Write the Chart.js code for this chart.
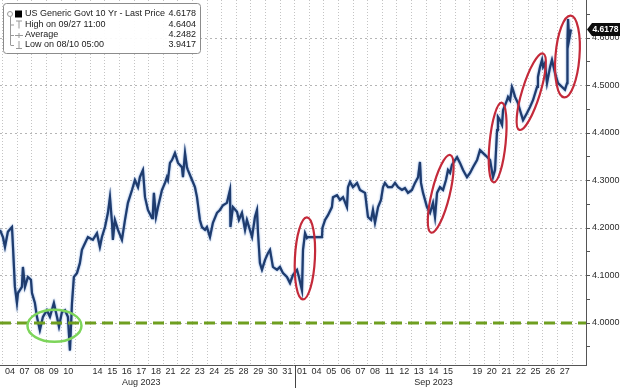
<!DOCTYPE html>
<html>
<head>
<meta charset="utf-8">
<script src="https://cdn.jsdelivr.net/npm/chart.js@4.4.0/dist/chart.umd.min.js"></script>
<style>
  html, body { margin: 0; padding: 0; background: #fff; }
  #wrap { width: 620px; height: 388px; }
</style>
</head>
<body>
<div id="wrap"><canvas id="myChart" width="620" height="388"></canvas></div>
<script>
// trading days on the axis (Aug 3 is only partly visible at the left edge)
const tradingDays = [
  '08/04', '08/07', '08/08', '08/09', '08/10', '08/11', '08/14', '08/15', '08/16', '08/17',
  '08/18', '08/21', '08/22', '08/23', '08/24', '08/25', '08/28', '08/29', '08/30', '08/31',
  '09/01', '09/04', '09/05', '09/06', '09/07', '09/08', '09/11', '09/12', '09/13', '09/14',
  '09/15', '09/18', '09/19', '09/20', '09/21', '09/22', '09/25', '09/26', '09/27'
];
const hiddenDayLabels = ['08/11', '09/18'];
const monthLabels = { '08/17': 'Aug 2023', '09/14': 'Sep 2023' };

// intraday path: position in trading days (0 = Aug 04) and yield
const pricePos = [
  -0.68, -0.48, -0.34, -0.14, 0.14, 0.21, 0.34, 0.48, 0.55, 0.82,
  0.89, 1.03, 1.23, 1.44, 1.51, 1.71, 1.85, 2.05, 2.26, 2.53,
  2.74, 3.01, 3.22, 3.36, 3.56, 3.77, 3.97, 4.11, 4.25, 4.38,
  4.59, 4.79, 4.93, 5.14, 5.34, 5.68, 5.96, 6.16, 6.30, 6.51,
  6.71, 6.85, 6.99, 7.05, 7.19, 7.40, 7.67, 7.88, 8.08, 8.36,
  8.56, 8.77, 8.90, 9.11, 9.25, 9.45, 9.73, 9.79, 9.86, 10.00,
  10.14, 10.41, 10.62, 10.75, 10.82, 10.96, 11.10, 11.30, 11.51, 11.78,
  11.85, 11.99, 12.12, 12.19, 12.47, 12.67, 12.81, 13.01, 13.15, 13.36,
  13.49, 13.70, 13.90, 14.18, 14.38, 14.59, 14.86, 15.07, 15.10, 15.27,
  15.55, 15.68, 15.89, 16.10, 16.23, 16.58, 16.78, 16.92, 16.99, 17.12,
  17.26, 17.47, 17.67, 17.81, 18.01, 18.29, 18.49, 18.70, 18.97, 19.18,
  19.38, 19.66, 19.79, 20.00, 20.07, 20.21, 20.34, 20.41, 21.37, 21.40,
  21.58, 21.78, 22.05, 22.12, 22.40, 22.60, 22.81, 23.08, 23.15, 23.29,
  23.49, 23.77, 23.97, 24.32, 24.52, 24.73, 24.86, 25.00, 25.21, 25.41,
  25.55, 25.68, 25.89, 26.16, 26.37, 26.58, 26.85, 27.05, 27.26, 27.53,
  27.74, 27.95, 28.08, 28.15, 28.29, 28.56, 28.77, 28.97, 29.11, 29.25,
  29.45, 29.66, 29.86, 30.00, 30.14, 30.27, 30.48, 30.62, 30.82, 31.03,
  31.30, 31.51, 31.71, 31.99, 32.19, 32.53, 32.88, 33.08, 33.22, 33.36,
  33.42, 33.56, 33.70, 33.77, 34.04, 34.11, 34.25, 34.38, 34.45, 34.59,
  34.79, 34.93, 35.07, 35.14, 35.41, 35.62, 35.82, 36.10, 36.16, 36.30,
  36.44, 36.51, 36.64, 36.78, 36.99, 37.12, 37.33, 37.53, 37.81, 38.01,
  38.15, 38.18, 38.22, 38.29, 38.42
];
const priceVals = [
  4.196, 4.181, 4.160, 4.192, 4.202, 4.160, 4.076, 4.042, 4.063, 4.076,
  4.118, 4.076, 4.097, 4.091, 4.063, 4.042, 4.013, 3.985, 4.013, 4.027,
  4.013, 4.042, 4.013, 3.992, 4.023, 4.027, 4.013, 3.942, 4.042, 4.097,
  4.105, 4.126, 4.154, 4.168, 4.181, 4.175, 4.189, 4.160, 4.181, 4.202,
  4.232, 4.265, 4.211, 4.175, 4.217, 4.196, 4.175, 4.217, 4.253, 4.280,
  4.301, 4.286, 4.307, 4.322, 4.265, 4.238, 4.221, 4.232, 4.274, 4.223,
  4.244, 4.280, 4.295, 4.307, 4.301, 4.337, 4.343, 4.358, 4.337, 4.328,
  4.307, 4.358, 4.328, 4.322, 4.301, 4.286, 4.265, 4.217, 4.202, 4.196,
  4.202, 4.181, 4.211, 4.232, 4.238, 4.248, 4.253, 4.280, 4.202, 4.244,
  4.234, 4.217, 4.232, 4.196, 4.217, 4.181, 4.223, 4.238, 4.189, 4.126,
  4.112, 4.133, 4.147, 4.154, 4.118, 4.112, 4.118, 4.105, 4.097, 4.084,
  4.101, 4.112, 4.097, 4.069, 4.154, 4.189, 4.179, 4.181, 4.181, 4.200,
  4.217, 4.227, 4.244, 4.265, 4.269, 4.259, 4.265, 4.244, 4.286, 4.297,
  4.286, 4.295, 4.280, 4.274, 4.223, 4.217, 4.238, 4.211, 4.244, 4.259,
  4.286, 4.295, 4.286, 4.286, 4.295, 4.286, 4.280, 4.284, 4.274, 4.280,
  4.295, 4.307, 4.339, 4.295, 4.274, 4.244, 4.232, 4.253, 4.223, 4.274,
  4.286, 4.280, 4.301, 4.322, 4.316, 4.333, 4.343, 4.349, 4.337, 4.322,
  4.307, 4.316, 4.328, 4.343, 4.364, 4.354, 4.343, 4.307, 4.322, 4.406,
  4.434, 4.427, 4.417, 4.448, 4.469, 4.476, 4.469, 4.497, 4.491, 4.476,
  4.463, 4.448, 4.434, 4.427, 4.442, 4.455, 4.469, 4.497, 4.518, 4.539,
  4.554, 4.539, 4.547, 4.505, 4.539, 4.554, 4.526, 4.505, 4.497, 4.491,
  4.505, 4.589, 4.640, 4.596, 4.618
];

const yTicks = [3.95, 4.00, 4.05, 4.10, 4.15, 4.20, 4.25, 4.30, 4.35, 4.40, 4.45, 4.50, 4.55, 4.60, 4.65];
const supportLevel = 4.0;
const lastPrice = 4.6178;
const legendRows = [
  ['US Generic Govt 10 Yr - Last Price', '4.6178'],
  ['High on 09/27 11:00', '4.6404'],
  ['Average', '4.2482'],
  ['Low on 08/10 05:00', '3.9417']
];

// hand-drawn style rings (centre in day / yield units)
const redRings = [
  { day: 20.2, val: 4.136, rx: 10, ry: 41, tilt: 0.05 },
  { day: 29.5, val: 4.272, rx: 9, ry: 40, tilt: 0.24 },
  { day: 33.4, val: 4.380, rx: 8, ry: 40, tilt: 0.1 },
  { day: 35.7, val: 4.487, rx: 9, ry: 40, tilt: 0.3 },
  { day: 38.18, val: 4.561, rx: 12, ry: 41, tilt: 0.08 }
];
const greenRing = { day: 3.05, val: 3.994, rx: 27, ry: 16, tilt: 0 };

const isMajor = v => Math.abs(v * 10 - Math.round(v * 10)) < 1e-6;

const overlayPlugin = {
  id: 'overlay',
  beforeDatasetDraw(chart) {
    // soft blue fringe like the intraday bars
    chart.ctx.save();
    chart.ctx.shadowColor = 'rgba(80,130,205,0.9)';
    chart.ctx.shadowBlur = 2;
  },
  afterDatasetDraw(chart) {
    chart.ctx.restore();
  },
  afterDatasetsDraw(chart) {
    const { ctx, chartArea, scales: { x, y } } = chart;
    ctx.save();
    // 4.00 line
    const ys = y.getPixelForValue(supportLevel);
    ctx.strokeStyle = '#6f9f20';
    ctx.lineWidth = 3;
    ctx.setLineDash([11, 6]);
    ctx.beginPath();
    ctx.moveTo(chartArea.left, ys);
    ctx.lineTo(chartArea.right, ys);
    ctx.stroke();
    ctx.setLineDash([]);

    function ring(r, color, w) {
      ctx.strokeStyle = color;
      ctx.lineWidth = w;
      ctx.beginPath();
      ctx.ellipse(x.getPixelForValue(r.day), y.getPixelForValue(r.val), r.rx, r.ry, r.tilt, 0, Math.PI * 2);
      ctx.stroke();
    }
    redRings.forEach(r => ring(r, '#c42a3a', 2.2));
    ring(greenRing, '#7dd55a', 2.5);
    ctx.restore();
  },
  afterDraw(chart) {
    const { ctx, chartArea, scales: { x, y } } = chart;
    ctx.save();

    // month divider below the axis
    const xd = Math.round(x.getPixelForValue(19.5)) + 0.5;
    ctx.strokeStyle = '#444';
    ctx.lineWidth = 1;
    ctx.beginPath();
    ctx.moveTo(xd, chartArea.bottom);
    ctx.lineTo(xd, chart.height);
    ctx.stroke();

    // legend box
    ctx.fillStyle = 'rgba(255,255,255,0.92)';
    ctx.strokeStyle = '#8c8c8c';
    ctx.beginPath();
    ctx.roundRect(3.5, 3.5, 197, 50, 3);
    ctx.fill();
    ctx.stroke();

    const rowY = [14, 24.5, 35, 45];
    ctx.font = '9px "Liberation Sans", Arial, sans-serif';
    ctx.textBaseline = 'middle';
    legendRows.forEach((row, i) => {
      ctx.fillStyle = '#1a1a1a';
      ctx.textAlign = 'left';
      ctx.fillText(row[0], 25, rowY[i]);
      ctx.textAlign = 'right';
      ctx.fillText(row[1], 196, rowY[i]);
    });
    // legend glyphs
    ctx.fillStyle = '#000';
    ctx.fillRect(15, rowY[0] - 3.5, 7, 7);
    ctx.strokeStyle = '#999';
    ctx.lineWidth = 1;
    ctx.beginPath();
    ctx.arc(10, rowY[0], 2.5, 0, Math.PI * 2);
    ctx.moveTo(10.5, rowY[0] + 3);
    ctx.lineTo(10.5, rowY[3]);
    [1, 2, 3].forEach(i => { ctx.moveTo(10.5, rowY[i] + 0.5); ctx.lineTo(14, rowY[i] + 0.5); });
    // high
    ctx.moveTo(16, rowY[1] - 3.5); ctx.lineTo(22, rowY[1] - 3.5);
    ctx.moveTo(19, rowY[1] - 3.5); ctx.lineTo(19, rowY[1] + 4);
    // average
    ctx.moveTo(15, rowY[2] + 0.5); ctx.lineTo(23, rowY[2] + 0.5);
    ctx.moveTo(19, rowY[2] - 2); ctx.lineTo(19, rowY[2] + 3);
    // low
    ctx.moveTo(19, rowY[3] - 4); ctx.lineTo(19, rowY[3] + 3.5);
    ctx.moveTo(16, rowY[3] + 3.5); ctx.lineTo(22, rowY[3] + 3.5);
    ctx.stroke();

    // last price tag on the right axis
    const yp = y.getPixelForValue(lastPrice);
    const x0 = chartArea.right + 1;
    ctx.fillStyle = '#0d0d0d';
    ctx.beginPath();
    ctx.moveTo(x0, yp);
    ctx.lineTo(x0 + 5, yp - 6.5);
    ctx.lineTo(chart.width, yp - 6.5);
    ctx.lineTo(chart.width, yp + 6.5);
    ctx.lineTo(x0 + 5, yp + 6.5);
    ctx.closePath();
    ctx.fill();
    ctx.fillStyle = '#fff';
    ctx.font = 'bold 8.5px "Liberation Sans", Arial, sans-serif';
    ctx.textAlign = 'center';
    ctx.fillText(lastPrice.toFixed(4), x0 + 18.5, yp + 0.5);
    ctx.restore();
  }
};

function myLoadFunction() {
  const ctx = document.getElementById('myChart').getContext('2d');
  Chart.defaults.font.family = '"Liberation Sans", Arial, sans-serif';
  Chart.defaults.color = '#2b2b2b';

  const pricePoints = pricePos.map((p, i) => ({ x: p, y: priceVals[i] }));

  const myChartConfig = {
    type: 'line',
    data: {
      datasets: [{
        label: 'US Generic Govt 10 Yr',
        data: pricePoints,
        borderColor: '#1f3c6e',
        borderWidth: 2.2,
        pointRadius: 0,
        tension: 0
      }]
    },
    options: {
      responsive: false,
      animation: false,
      layout: { padding: 0 },
      plugins: {
        legend: { display: false },
        tooltip: { enabled: false }
      },
      scales: {
        x: {
          type: 'linear',
          position: 'bottom',
          min: -0.68,
          max: 39.45,
          afterBuildTicks: scale => {
            scale.ticks = tradingDays.map((d, i) => ({ value: i }));
          },
          afterFit: scale => {
            scale.height = 23;
            scale.paddingLeft = 0;
            scale.paddingRight = 0;
          },
          ticks: {
            autoSkip: false,
            maxRotation: 0,
            padding: 1,
            font: { size: 9, lineHeight: 1.25 },
            callback: (v, i) => {
              const d = tradingDays[i];
              if (!d || hiddenDayLabels.includes(d)) return '';
              const day = d.slice(3);
              return monthLabels[d] ? [day, monthLabels[d]] : day;
            }
          },
          grid: {
            offset: true,
            color: '#c4c4c4',
            drawTicks: false
          },
          border: { color: '#555', dash: [1, 2] }
        },
        y: {
          type: 'linear',
          position: 'right',
          min: 3.9116,
          max: 4.68,
          afterBuildTicks: scale => {
            scale.ticks = yTicks.map(v => ({ value: v }));
          },
          afterFit: scale => {
            scale.width = 34;
            scale.paddingTop = 0;
            scale.paddingBottom = 0;
          },
          ticks: {
            padding: 2,
            font: { size: 9 },
            callback: v => isMajor(v) ? v.toFixed(4) : ''
          },
          grid: {
            color: c => (c.tick && isMajor(c.tick.value)) ? '#b5b5b5' : 'rgba(0,0,0,0)',
            tickColor: '#555',
            tickLength: 4
          },
          border: { color: '#555', dash: [2, 3] }
        }
      }
    },
    plugins: [overlayPlugin]
  };
  const myChart = new Chart(ctx, myChartConfig);
}

document.addEventListener('DOMContentLoaded', myLoadFunction);
</script>
</body>
</html>
